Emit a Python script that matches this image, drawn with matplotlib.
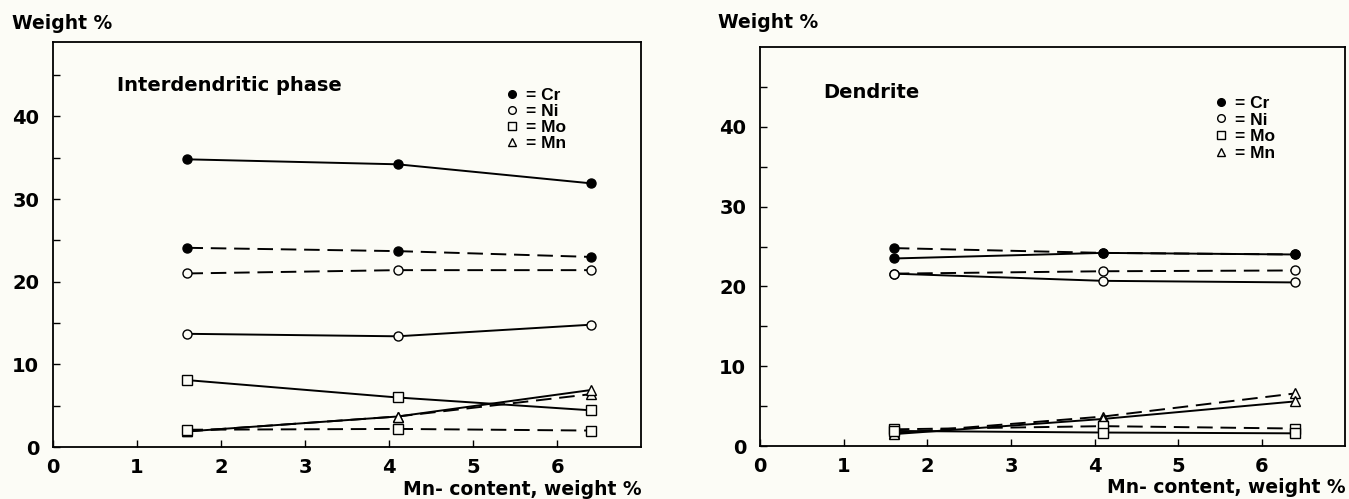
import matplotlib
matplotlib.use("Agg")
import matplotlib.pyplot as plt
from matplotlib.lines import Line2D

plt.rcParams['font.family'] = ['DejaVu Sans']

mn_content = [1.6, 4.1, 6.4]

# Interdendritic phase (solid / dashed series)
inter_cr_solid = [34.8, 34.2, 31.9]
inter_cr_dash = [24.1, 23.7, 23.0]
inter_ni_dash = [21.0, 21.4, 21.4]
inter_ni_solid = [13.7, 13.4, 14.8]
inter_mo_solid = [8.1, 6.0, 4.45]
inter_mo_dash = [2.1, 2.2, 2.0]
inter_mn_solid = [1.9, 3.7, 6.9]
inter_mn_dash = [1.9, 3.7, 6.4]

# Dendrite
dend_cr_dash = [24.8, 24.2, 24.0]
dend_cr_solid = [23.5, 24.2, 24.0]
dend_ni_dash = [21.6, 21.9, 22.0]
dend_ni_solid = [21.6, 20.7, 20.5]
dend_mn_dash = [1.6, 3.7, 6.6]
dend_mn_solid = [1.5, 3.4, 5.6]
dend_mo_dash = [2.1, 2.5, 2.2]
dend_mo_solid = [1.9, 1.7, 1.6]

legend_labels = ['= Cr', '= Ni', '= Mo', '= Mn']
xticks = [0, 1, 2, 3, 4, 5, 6]
yticks = [0, 10, 20, 30, 40]

BG = '#fcfcf6'
fig = plt.figure(figsize=(13.49, 4.99), dpi=100, facecolor=BG)

ax1 = fig.add_axes([0.0393, 0.104, 0.436, 0.812], facecolor=BG)
ax2 = fig.add_axes([0.5634, 0.106, 0.434, 0.800], facecolor=BG)

styles = {
    'Cr': dict(marker='o', mfc='black'),
    'Ni': dict(marker='o', mfc=BG),
    'Mo': dict(marker='s', mfc=BG),
    'Mn': dict(marker='^', mfc=BG),
}

def plot_series(ax, y, el, ls):
    st = styles[el]
    kw = {}
    if ls == '--':
        kw['dashes'] = (8, 4)
    ax.plot(mn_content, y, color='black', lw=1.4, ls=ls,
            marker=st['marker'], mfc=st['mfc'], mec='black', mew=1.0,
            ms=6.5, zorder=3, **kw)

def style_axes(ax, ymax, title, title_xy, leg_anchor, ylabel_xy, leg_spacing):
    ax.set_xlim(0, 7)
    ax.set_ylim(0, ymax)
    ax.set_xticks(xticks)
    ax.set_xticklabels([str(t) for t in xticks], fontsize=14, fontweight='bold')
    ax.set_yticks(yticks)
    ax.set_yticklabels([str(t) for t in yticks], fontsize=14, fontweight='bold')
    ax.set_yticks([5, 15, 25, 35, 45], minor=True)
    ax.tick_params(axis='both', which='both', direction='in', length=5, width=1.0)
    ax.tick_params(axis='y', pad=10)
    ax.tick_params(axis='x', pad=8)
    for sp in ax.spines.values():
        sp.set_linewidth(1.3)
    ax.text(title_xy[0], title_xy[1], title, transform=ax.transAxes,
            fontsize=14, fontweight='bold', ha='left', va='center')
    handles = [
        Line2D([], [], ls='none', marker='o', mfc='black', mec='black', ms=5.5),
        Line2D([], [], ls='none', marker='o', mfc=BG, mec='black', ms=5.5),
        Line2D([], [], ls='none', marker='s', mfc=BG, mec='black', ms=5.5),
        Line2D([], [], ls='none', marker='^', mfc=BG, mec='black', ms=5.5),
    ]
    ax.legend(handles, legend_labels, loc='upper left', bbox_to_anchor=leg_anchor,
              frameon=False, handlelength=0.6, handletextpad=0.5,
              labelspacing=leg_spacing, borderpad=0,
              prop=dict(family='Liberation Sans', size=12.5, weight='bold'))
    ax.text(1.0, -0.104, 'Mn- content, weight %', transform=ax.transAxes,
            fontsize=13.5, fontweight='bold', ha='right', va='center')
    fig.text(ylabel_xy[0], ylabel_xy[1], 'Weight %', fontsize=13.5,
             fontweight='bold', ha='left', va='center')

plot_series(ax1, inter_cr_solid, 'Cr', '-')
plot_series(ax1, inter_cr_dash, 'Cr', '--')
plot_series(ax1, inter_ni_dash, 'Ni', '--')
plot_series(ax1, inter_ni_solid, 'Ni', '-')
plot_series(ax1, inter_mo_solid, 'Mo', '-')
plot_series(ax1, inter_mn_dash, 'Mn', '--')
plot_series(ax1, inter_mn_solid, 'Mn', '-')
plot_series(ax1, inter_mo_dash, 'Mo', '--')
style_axes(ax1, 49, 'Interdendritic phase', (0.109, 0.893), (0.757, 0.908),
           (0.009, 0.952), 0.05)

plot_series(ax2, dend_cr_dash, 'Cr', '--')
plot_series(ax2, dend_cr_solid, 'Cr', '-')
plot_series(ax2, dend_ni_dash, 'Ni', '--')
plot_series(ax2, dend_ni_solid, 'Ni', '-')
plot_series(ax2, dend_mn_dash, 'Mn', '--')
plot_series(ax2, dend_mn_solid, 'Mn', '-')
plot_series(ax2, dend_mo_dash, 'Mo', '--')
plot_series(ax2, dend_mo_solid, 'Mo', '-')
style_axes(ax2, 50, 'Dendrite', (0.108, 0.885), (0.763, 0.9),
           (0.532, 0.954), 0.1)

fig.savefig('out.png', dpi=100, facecolor=BG)
